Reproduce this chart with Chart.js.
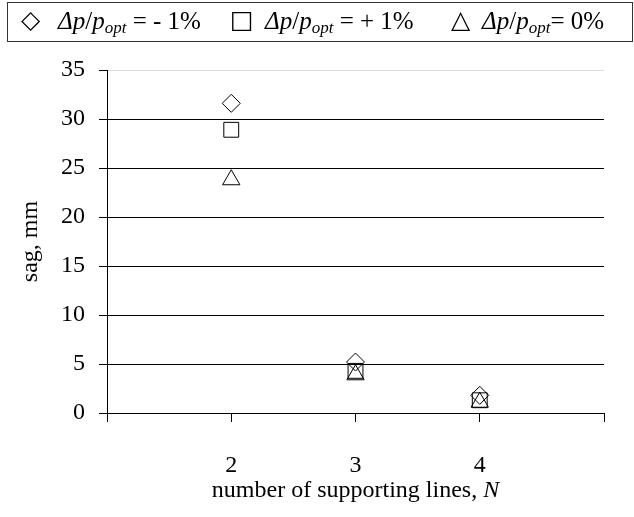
<!DOCTYPE html>
<html>
<head>
<meta charset="utf-8">
<script src="https://cdn.jsdelivr.net/npm/chart.js"></script>
<style>
  body { margin:0; background:#fff; }
  #wrap { position:relative; width:634px; height:517px; }
  #legend { position:absolute; left:7px; top:2px; width:626px; height:40px; border:1px solid #333; box-sizing:border-box;
            font-family:"Liberation Serif", "Times New Roman", Tinos, Times, serif; font-size:25px; color:#000; }
  #legend span.item { position:absolute; top:4px; white-space:nowrap; }
  #legend span.mk { position:absolute; top:2px; font-family:"DejaVu Sans"; font-size:25px; }
  #legend sub { font-size:17px; vertical-align:-4px; }
  canvas { position:absolute; left:0; top:0; }
</style>
</head>
<body>
<div id="wrap">
  <canvas id="grafico" width="634" height="517"></canvas>
  <div id="legend">
    <span class="mk" style="left:13px">◇</span>
    <span class="item" style="left:50px"><i>Δp</i>/<i>p<sub>opt</sub></i> = - 1%</span>
    <span class="mk" style="left:222px">□</span>
    <span class="item" style="left:257px"><i>Δp</i>/<i>p<sub>opt</sub></i> = + 1%</span>
    <span class="mk" style="left:443px">△</span>
    <span class="item" style="left:474px"><i>Δp</i>/<i>p<sub>opt</sub></i>= 0%</span>
  </div>
</div>
<script>
// numero de linhas de suporte
const nLinhas = [2, 3, 4];
// flecha (mm) para cada caso
const sagMenos1 = [31.6, 5.2, 1.8];
const sagMais1 = [28.9, 4.3, 1.3];
const sagZero = [23.8, 3.9, 1.1];
const xRotulos = [2, 3, 4];

function pontos(vals){
  return nLinhas.map((n,i)=>({x:n, y:vals[i]}));
}

const familia = '"Liberation Serif", "Times New Roman", Tinos, Times, serif';
const fonte = { family:familia, size:24 };

// titulo do eixo x com N em italico
const tituloX = {
  id:'tituloX',
  afterDraw(chart){
    const ctx = chart.ctx;
    const sx = chart.scales.x;
    const a = 'number of supporting lines, ';
    const b = 'N';
    ctx.save();
    ctx.fillStyle = '#000';
    ctx.textBaseline = 'middle';
    ctx.font = '24px ' + familia;
    const wa = ctx.measureText(a).width;
    ctx.font = 'italic 24px ' + familia;
    const wb = ctx.measureText(b).width;
    const x0 = (sx.left + sx.right)/2 - (wa+wb)/2;
    const y = sx.bottom - 26;
    ctx.font = '24px ' + familia;
    ctx.fillText(a, x0, y);
    ctx.font = 'italic 24px ' + familia;
    ctx.fillText(b, x0+wa, y);
    ctx.restore();
  }
};

new Chart(document.getElementById('grafico'), {
  type:'scatter',
  data:{
    datasets:[
      { label:'-1%', data:pontos(sagMenos1), pointStyle:'rectRot', pointRadius:9,
        borderColor:'#000', backgroundColor:'rgba(0,0,0,0)', borderWidth:1 },
      { label:'+1%', data:pontos(sagMais1), pointStyle:'rect', pointRadius:10.5,
        borderColor:'#000', backgroundColor:'rgba(0,0,0,0)', borderWidth:1 },
      { label:'0%', data:pontos(sagZero), pointStyle:'triangle', pointRadius:10,
        borderColor:'#000', backgroundColor:'rgba(0,0,0,0)', borderWidth:1 }
    ]
  },
  options:{
    responsive:false,
    animation:false,
    layout:{ padding:{ top:70, right:30, left:0, bottom:0 } },
    plugins:{ legend:{display:false}, tooltip:{enabled:false} },
    scales:{
      x:{
        type:'linear', min:1, max:5,
        ticks:{ stepSize:1, font:fonte, color:'#000', padding:29,
          callback:v => xRotulos.includes(v) ? String(v) : '' },
        grid:{ drawOnChartArea:false, tickLength:9, color:'#000' },
        border:{ color:'#000' },
        afterFit:s => { s.height = 104; }
      },
      y:{
        min:0, max:35,
        ticks:{ stepSize:5, font:fonte, color:'#000', padding:14 },
        grid:{ color:c => c.tick && c.tick.value === 35 ? '#ddd' : '#000', tickColor:'#000', tickLength:8 },
        border:{ color:'#000' },
        title:{ display:true, text:'sag, mm', font:fonte, color:'#000', padding:{top:16, bottom:0} },
        afterFit:s => { s.width = 107; }
      }
    }
  },
  plugins:[tituloX]
});
</script>
</body>
</html>
